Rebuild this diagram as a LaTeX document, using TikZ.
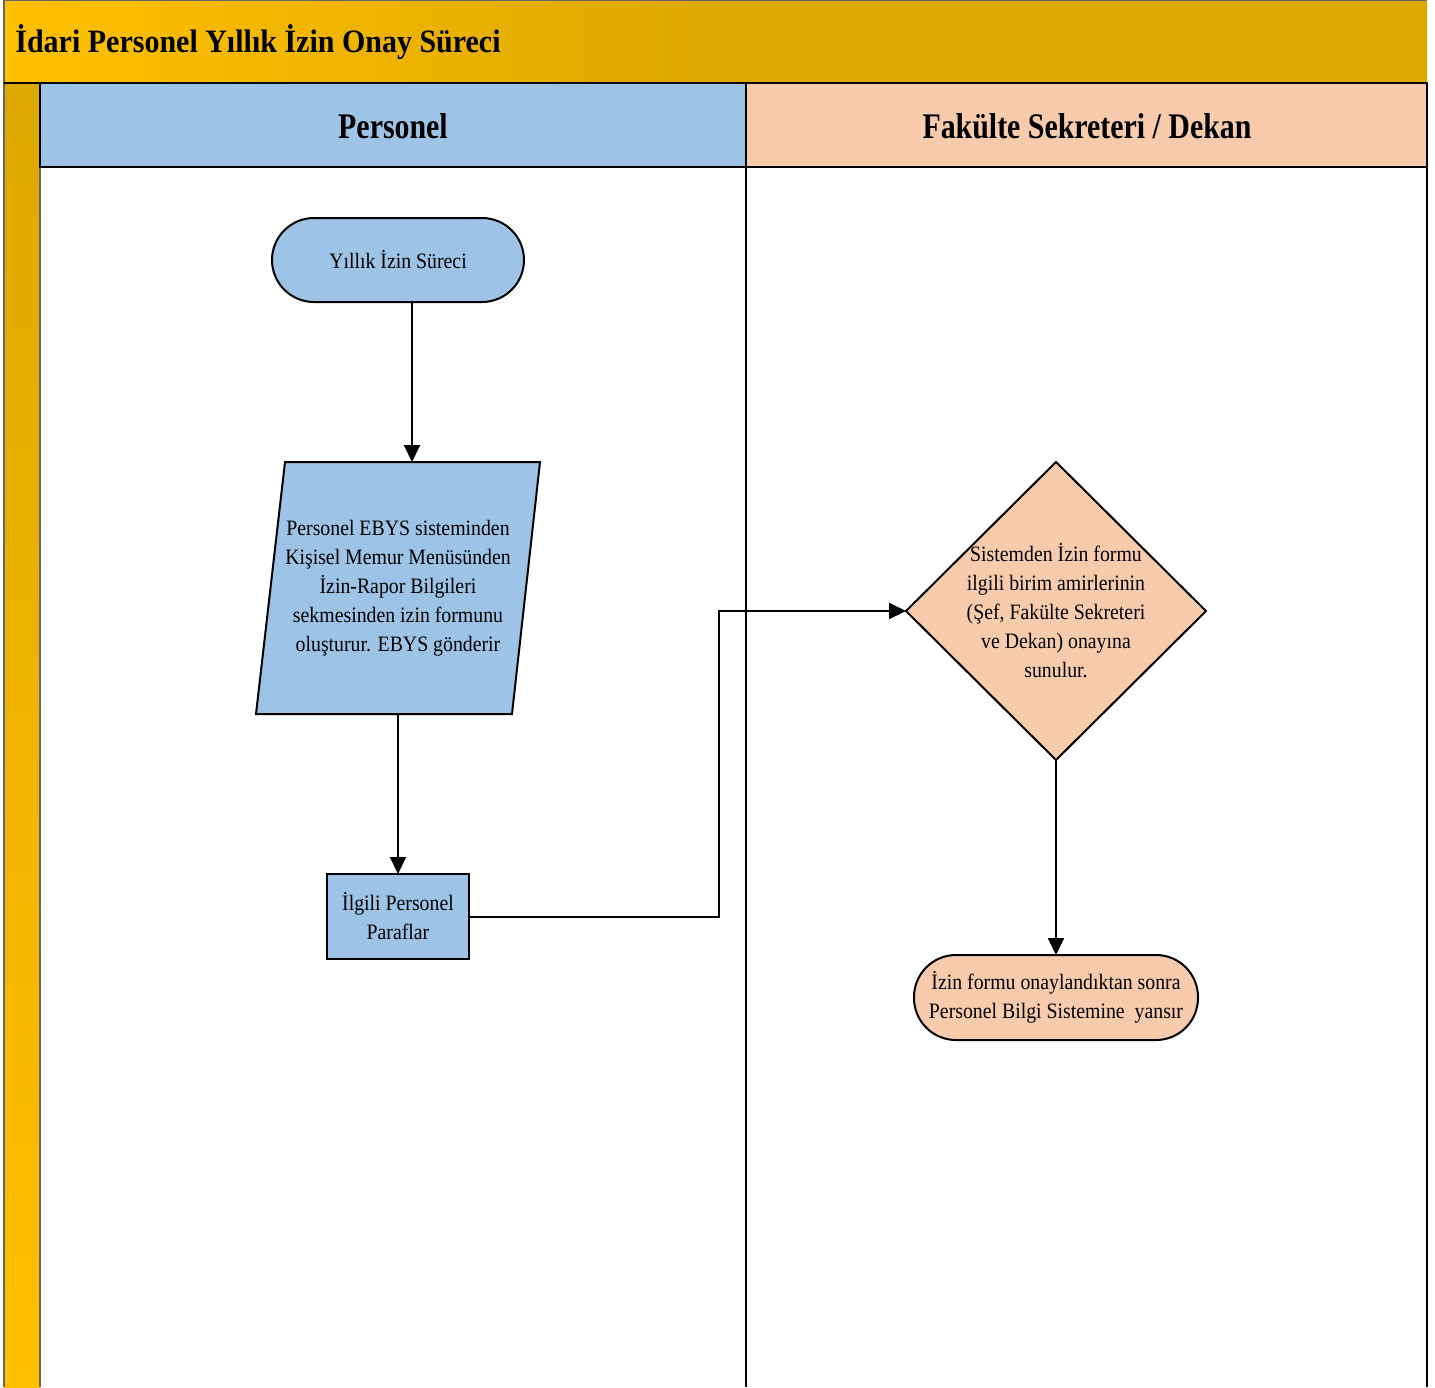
\documentclass[tikz,border=0pt]{standalone}
\usepackage{fontspec}
\setmainfont{Liberation Serif}[FakeStretch=0.9]
\newfontfamily\titlefont{Liberation Serif}[FakeStretch=0.92]
\newfontfamily\headfont{Liberation Serif}[FakeStretch=0.83]
\usetikzlibrary{arrows.meta,shapes.geometric}

\definecolor{gold}{HTML}{FFC000}
\definecolor{darkgold}{HTML}{DDA800}
\definecolor{laneblue}{HTML}{9DC3E6}
\definecolor{lanepeach}{HTML}{F8CBAD}

\pgfdeclarehorizontalshading{titlebar}{100bp}{%
  color(0bp)=(gold); color(25bp)=(gold); color(50bp)=(darkgold); color(100bp)=(darkgold)}

\tikzset{
  boxline/.style={draw=black, line width=1pt},
  flowtext/.style={align=center, inner sep=0pt, outer sep=0pt,
    font=\fontsize{11}{14.5}\selectfont},
  flow/.style={boxline, flowtext},
  terminal/.style={flow, rectangle, rounded corners=21pt},
  arr/.style={line width=1pt, -{Triangle[length=8.5pt,width=8pt]}},
}

\begin{document}
\begin{tikzpicture}[x=0.5pt,y=-0.5pt]
  \useasboundingbox (0,0) rectangle (1435,1387);

  % pool frame: title bar and left band
  \shade[shading=titlebar] (4,0) rectangle (1427,83);
  \shade[top color=darkgold, bottom color=gold] (4,83) rectangle (40,1387);
  \draw[line width=0.6pt, black!60] (4,1387) -- (4,0) -- (1427,0);
  \draw[line width=0.6pt, black!60] (40,83) -- (40,1387);
  \node[anchor=west, inner sep=0pt, font=\titlefont\bfseries\fontsize{16.3}{18}\selectfont]
    (title) at (15,42) {İdari Personel Yıllık İzin Onay Süreci};

  % lane headers
  \draw[boxline, fill=laneblue] (40,83) rectangle (746,167);
  \draw[boxline, fill=lanepeach] (746,83) rectangle (1427,167);
  \node[font=\headfont\bfseries\fontsize{18}{20}\selectfont] (laneA) at (393,126) {Personel};
  \node[font=\headfont\bfseries\fontsize{18}{20}\selectfont] (laneB) at (1087,126) {Fakülte Sekreteri / Dekan};

  % lane bodies
  \draw[boxline] (746,167) -- (746,1387);
  \draw[boxline] (1427,83) -- (1427,1387);
  \draw[boxline] (4,83) -- (1427,83);

  % flow nodes
  \node[terminal, fill=laneblue, minimum width=126pt, minimum height=42pt]
    (start) at (398,260) {Yıllık İzin Süreci};

  % input/output step: slanted box, then its text node on top
  \draw[boxline, fill=laneblue] (285,462) -- (540,462) -- (512,714) -- (256,714) -- cycle;
  \node[flowtext, rectangle, minimum width=142pt, minimum height=126pt] (form) at (398,588)
    {Personel EBYS sisteminden\\Kişisel Memur Menüsünden\\İzin-Rapor Bilgileri\\sekmesinden izin formunu\\oluşturur. EBYS gönderir};

  \node[flow, rectangle, fill=laneblue, minimum width=71pt, minimum height=42.5pt]
    (paraf) at (398,916.5) {İlgili Personel\\Paraflar};

  \node[flow, diamond, fill=lanepeach, minimum width=150pt, minimum height=149pt]
    (check) at (1056,611) {};
  \node[flowtext] (checktext) at (check.center)
    {Sistemden İzin formu\\ilgili birim amirlerinin\\(Şef, Fakülte Sekreteri\\ve Dekan) onayına\\sunulur.};

  \node[terminal, fill=lanepeach, minimum width=142pt, minimum height=42.5pt]
    (done) at (1056,997.5) {İzin formu onaylandıktan sonra\\Personel Bilgi Sistemine\ \ yansır};

  % connectors
  \coordinate (jog) at (719,0);
  \draw[arr] ([xshift=7pt]start.south) -- ([xshift=7pt]start.south |- form.north);
  \draw[arr] (form.south) -- (paraf.north);
  \draw[arr] (paraf.east) -- (paraf.east -| jog) -- (jog |- check.west) -- (check.west);
  \draw[arr] (check.south) -- (done.north);
\end{tikzpicture}
\end{document}
